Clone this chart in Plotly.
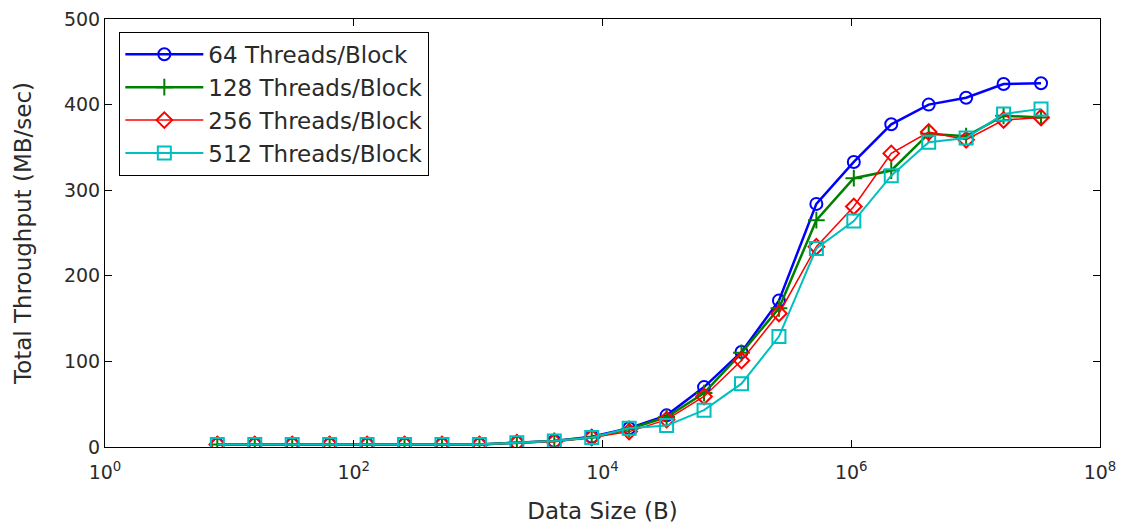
import plotly.graph_objects as go

data_size = [8, 16, 32, 64, 128, 256, 512, 1024, 2048, 4096, 8192, 16384,
             32768, 65536, 131072, 262144, 524288, 1048576, 2097152,
             4194304, 8388608, 16777216, 33554432]

t64 = [3, 3, 3, 3, 3, 3, 3, 3, 5, 7, 12, 22, 37, 70, 111, 171, 284, 333,
       377, 400, 408, 424, 425]
t128 = [3, 3, 3, 3, 3, 3, 3, 3, 5, 7, 11, 21, 35, 63, 110, 162, 265, 314,
        323, 366, 363, 387, 385]
t256 = [3, 3, 3, 3, 3, 3, 3, 3, 5, 6, 11, 18, 32, 59, 101, 156, 234, 281,
        343, 368, 359, 382, 385]
t512 = [3, 3, 3, 3, 3, 3, 3, 3, 5, 7, 11, 22, 25, 43, 74, 129, 232, 264,
        317, 356, 361, 389, 395]

names = ["64 Threads/Block", "128 Threads/Block", "256 Threads/Block",
         "512 Threads/Block"]
colors = ["#0000FF", "#008000", "#FF0000", "#00BFBF"]
symbols = ["circle-open", "cross-thin-open", "diamond-open", "square-open"]
sizes = [12, 12, 12, 13]
widths = [2.5, 2.5, 1.5, 2]
series = [t64, t128, t256, t512]

x_ticks = [1, 100, 10000, 1000000, 100000000]
x_ticktext = ["10<sup>0</sup>", "10<sup>2</sup>", "10<sup>4</sup>",
              "10<sup>6</sup>", "10<sup>8</sup>"]

fig = go.Figure()
for name, ys, c, s, sz, w in zip(names, series, colors, symbols, sizes, widths):
    fig.add_trace(go.Scatter(
        x=data_size, y=ys, name=name, mode="lines+markers",
        line=dict(color=c, width=w),
        marker=dict(symbol=s, size=sz, color=c, line=dict(color=c, width=2)),
    ))

font = dict(family="DejaVu Sans", size=19, color="#2a2a2a")

fig.update_layout(
    width=1127, height=525,
    margin=dict(l=105, r=27, t=19, b=78),
    paper_bgcolor="white", plot_bgcolor="white",
    font=font,
    showlegend=True,
    legend=dict(x=0.0144, y=0.97, xanchor="left", yanchor="top",
                bgcolor="white", bordercolor="black", borderwidth=1,
                font=dict(family="DejaVu Sans", size=23, color="#2a2a2a"),
                itemwidth=78, tracegroupgap=0),
    xaxis=dict(type="log", range=[0, 8], tickvals=x_ticks, ticktext=x_ticktext,
               ticks="inside", ticklen=7, tickcolor="black", mirror="ticks",
               showline=True, linecolor="black", linewidth=1, showgrid=False,
               zeroline=False, ticklabelstandoff=8, automargin=False,
               title=dict(text="Data Size (B)", standoff=21)),
    yaxis=dict(range=[0, 500], dtick=100, ticks="inside", ticklen=7,
               tickcolor="black", mirror="ticks", showline=True,
               linecolor="black", linewidth=1, showgrid=False, zeroline=False,
               automargin=False,
               title=dict(text="Total Throughput (MB/sec)", standoff=25)),
)

fig.write_html("out.html")
